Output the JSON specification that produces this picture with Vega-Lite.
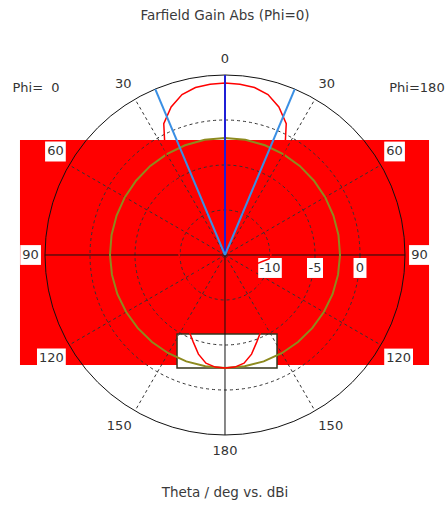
{
  "$schema": "https://vega.github.io/schema/vega-lite/v6.json",
  "width": 446,
  "height": 506,
  "autosize": {"type": "none"},
  "padding": 0,
  "background": "white",
  "config": {"view": {"stroke": null}},
  "datasets": {
    "region": [{"x1": -22.78, "x2": 22.67, "y1": 12.78, "y2": -12.22}],
    "frame": [{"x1": -5.33, "x2": 5.78, "y1": -8.78, "y2": -12.56}],
    "rings": [
      {"r": 5, "dash": true},
      {"r": 10, "dash": true},
      {"r": 15, "dash": true},
      {"r": 20, "dash": false}
    ],
    "spokes": [
      {"a": -150, "dash": true}, {"a": -120, "dash": true}, {"a": -60, "dash": true}, {"a": -30, "dash": true},
      {"a": 30, "dash": true}, {"a": 60, "dash": true}, {"a": 120, "dash": true}, {"a": 150, "dash": true},
      {"a": -90, "dash": false}, {"a": 90, "dash": false}, {"a": 180, "dash": false}
    ],
    "beams": [
      {"a": 0, "kind": "main"},
      {"a": -22.8, "kind": "3dB"},
      {"a": 22.8, "kind": "3dB"}
    ],
    "thetaLabels": [
      {"a": 0, "label": "0"},
      {"a": -30, "label": "30"}, {"a": 30, "label": "30"},
      {"a": -60, "label": "60"}, {"a": 60, "label": "60"},
      {"a": -90, "label": "90"}, {"a": 90, "label": "90"},
      {"a": -120, "label": "120"}, {"a": 120, "label": "120"},
      {"a": -150, "label": "150"}, {"a": 150, "label": "150"},
      {"a": 180, "label": "180"}
    ],
    "dbLabels": [
      {"r": 5, "label": "-10"},
      {"r": 10, "label": "-5"},
      {"r": 15, "label": "0"}
    ],
    "captions": [
      {"x": 0, "y": 26.56, "text": "Farfield Gain Abs (Phi=0)"},
      {"x": 0, "y": -26.44, "text": "Theta / deg vs. dBi"}
    ],
    "phiLabels": [
      {"x": -21.0, "y": 18.56, "text": "Phi=\u00a0 0"},
      {"x": 21.33, "y": 18.56, "text": "Phi=180"}
    ],
    "gain": [
      {"s": "red", "a": -180, "dB": -2.45}, {"s": "red", "a": -175, "dB": -2.5}, {"s": "red", "a": -170, "dB": -2.8},
      {"s": "red", "a": -165, "dB": -3.6}, {"s": "red", "a": -160, "dB": -4.7}, {"s": "red", "a": -155, "dB": -5.6},
      {"s": "red", "a": -150, "dB": -6.2}, {"s": "red", "a": -145, "dB": -7.0}, {"s": "red", "a": -140, "dB": -8.0},
      {"s": "red", "a": -135, "dB": -9.0}, {"s": "red", "a": -130, "dB": -10.0}, {"s": "red", "a": -125, "dB": -10.8},
      {"s": "red", "a": -120, "dB": -11.4}, {"s": "red", "a": -115, "dB": -11.7}, {"s": "red", "a": -110, "dB": -11.6},
      {"s": "red", "a": -105, "dB": -11.3}, {"s": "red", "a": -100, "dB": -10.8}, {"s": "red", "a": -95, "dB": -10.1},
      {"s": "red", "a": -90, "dB": -9.9}, {"s": "red", "a": -85, "dB": -9.85}, {"s": "red", "a": -80, "dB": -9.8},
      {"s": "red", "a": -75, "dB": -9.7}, {"s": "red", "a": -70, "dB": -9.6}, {"s": "red", "a": -65, "dB": -9.5},
      {"s": "red", "a": -60, "dB": -9.3}, {"s": "red", "a": -55, "dB": -9.0}, {"s": "red", "a": -50, "dB": -8.6},
      {"s": "red", "a": -45, "dB": -7.8}, {"s": "red", "a": -40, "dB": -6.5}, {"s": "red", "a": -35, "dB": -4.5},
      {"s": "red", "a": -30, "dB": -1.7}, {"s": "red", "a": -25, "dB": 1.1}, {"s": "red", "a": -20, "dB": 2.5},
      {"s": "red", "a": -15, "dB": 3.45}, {"s": "red", "a": -10, "dB": 3.9}, {"s": "red", "a": -5, "dB": 4.05},
      {"s": "red", "a": 0, "dB": 4.1},
      {"s": "red", "a": 5, "dB": 4.05}, {"s": "red", "a": 10, "dB": 3.9}, {"s": "red", "a": 15, "dB": 3.45},
      {"s": "red", "a": 20, "dB": 2.5}, {"s": "red", "a": 25, "dB": 1.1}, {"s": "red", "a": 30, "dB": -1.7},
      {"s": "red", "a": 35, "dB": -4.5}, {"s": "red", "a": 40, "dB": -6.5}, {"s": "red", "a": 45, "dB": -7.8},
      {"s": "red", "a": 50, "dB": -8.6}, {"s": "red", "a": 55, "dB": -9.0}, {"s": "red", "a": 60, "dB": -9.3},
      {"s": "red", "a": 65, "dB": -9.5}, {"s": "red", "a": 70, "dB": -9.6}, {"s": "red", "a": 75, "dB": -9.7},
      {"s": "red", "a": 80, "dB": -9.8}, {"s": "red", "a": 85, "dB": -9.85}, {"s": "red", "a": 90, "dB": -9.9},
      {"s": "red", "a": 95, "dB": -10.1}, {"s": "red", "a": 100, "dB": -10.8}, {"s": "red", "a": 105, "dB": -11.3},
      {"s": "red", "a": 110, "dB": -11.6}, {"s": "red", "a": 115, "dB": -11.7}, {"s": "red", "a": 120, "dB": -11.4},
      {"s": "red", "a": 125, "dB": -10.8}, {"s": "red", "a": 130, "dB": -10.0}, {"s": "red", "a": 135, "dB": -9.0},
      {"s": "red", "a": 140, "dB": -8.0}, {"s": "red", "a": 145, "dB": -7.0}, {"s": "red", "a": 150, "dB": -6.2},
      {"s": "red", "a": 155, "dB": -5.6}, {"s": "red", "a": 160, "dB": -4.7}, {"s": "red", "a": 165, "dB": -3.6},
      {"s": "red", "a": 170, "dB": -2.8}, {"s": "red", "a": 175, "dB": -2.5}, {"s": "red", "a": 180, "dB": -2.45},
      {"s": "olive", "a": -180, "dB": -2.45}, {"s": "olive", "a": -170, "dB": -2.44}, {"s": "olive", "a": -160, "dB": -2.42},
      {"s": "olive", "a": -150, "dB": -2.4}, {"s": "olive", "a": -140, "dB": -2.38}, {"s": "olive", "a": -130, "dB": -2.35},
      {"s": "olive", "a": -120, "dB": -2.32}, {"s": "olive", "a": -110, "dB": -2.28}, {"s": "olive", "a": -100, "dB": -2.25},
      {"s": "olive", "a": -90, "dB": -2.22}, {"s": "olive", "a": -80, "dB": -2.2}, {"s": "olive", "a": -70, "dB": -2.18},
      {"s": "olive", "a": -60, "dB": -2.15}, {"s": "olive", "a": -50, "dB": -2.12}, {"s": "olive", "a": -40, "dB": -2.08},
      {"s": "olive", "a": -30, "dB": -2.05}, {"s": "olive", "a": -20, "dB": -2.02}, {"s": "olive", "a": -10, "dB": -2.0},
      {"s": "olive", "a": 0, "dB": -2.0},
      {"s": "olive", "a": 10, "dB": -2.0}, {"s": "olive", "a": 20, "dB": -2.02}, {"s": "olive", "a": 30, "dB": -2.05},
      {"s": "olive", "a": 40, "dB": -2.08}, {"s": "olive", "a": 50, "dB": -2.12}, {"s": "olive", "a": 60, "dB": -2.15},
      {"s": "olive", "a": 70, "dB": -2.18}, {"s": "olive", "a": 80, "dB": -2.2}, {"s": "olive", "a": 90, "dB": -2.22},
      {"s": "olive", "a": 100, "dB": -2.25}, {"s": "olive", "a": 110, "dB": -2.28}, {"s": "olive", "a": 120, "dB": -2.32},
      {"s": "olive", "a": 130, "dB": -2.35}, {"s": "olive", "a": 140, "dB": -2.38}, {"s": "olive", "a": 150, "dB": -2.4},
      {"s": "olive", "a": 160, "dB": -2.42}, {"s": "olive", "a": 170, "dB": -2.44}, {"s": "olive", "a": 180, "dB": -2.45}
    ]
  },
  "layer": [
    {
      "data": {"name": "region"},
      "mark": {"type": "rect", "color": "#ff0000"},
      "encoding": {
        "x": {"field": "x1", "type": "quantitative", "scale": {"domain": [-25, 24.5556], "nice": false, "zero": false}, "axis": null},
        "x2": {"field": "x2"},
        "y": {"field": "y1", "type": "quantitative", "scale": {"domain": [-27.8889, 28.3333], "nice": false, "zero": false}, "axis": null},
        "y2": {"field": "y2"}
      }
    },
    {
      "data": {"name": "frame"},
      "mark": {"type": "rect", "fill": "white", "stroke": "#34341c", "strokeWidth": 1.5},
      "encoding": {
        "x": {"field": "x1", "type": "quantitative", "axis": null},
        "x2": {"field": "x2"},
        "y": {"field": "y1", "type": "quantitative", "axis": null},
        "y2": {"field": "y2"}
      }
    },
    {
      "data": {"name": "rings"},
      "transform": [
        {"filter": "datum.dash"},
        {"calculate": "0", "as": "ox"},
        {"calculate": "0", "as": "oy"}
      ],
      "mark": {"type": "point", "shape": "circle", "filled": false, "stroke": "#333333", "strokeWidth": 1, "strokeDash": [3, 3], "opacity": 1},
      "encoding": {
        "x": {"field": "ox", "type": "quantitative", "axis": null},
        "y": {"field": "oy", "type": "quantitative", "axis": null},
        "size": {"field": "r", "type": "quantitative", "scale": {"type": "pow", "exponent": 2, "domain": [0, 20], "range": [0, 129600], "zero": true}, "legend": null}
      }
    },
    {
      "data": {"name": "spokes"},
      "transform": [
        {"filter": "datum.dash"},
        {"calculate": "0", "as": "ox"},
        {"calculate": "0", "as": "oy"},
        {"calculate": "20 * sin(datum.a * PI / 180)", "as": "ex"},
        {"calculate": "20 * cos(datum.a * PI / 180)", "as": "ey"}
      ],
      "mark": {"type": "rule", "color": "#333333", "strokeWidth": 1, "strokeDash": [3, 3]},
      "encoding": {
        "x": {"field": "ox", "type": "quantitative", "axis": null},
        "y": {"field": "oy", "type": "quantitative", "axis": null},
        "x2": {"field": "ex"},
        "y2": {"field": "ey"}
      }
    },
    {
      "data": {"name": "rings"},
      "transform": [
        {"filter": "!datum.dash"},
        {"calculate": "0", "as": "ox"},
        {"calculate": "0", "as": "oy"}
      ],
      "mark": {"type": "point", "shape": "circle", "filled": false, "stroke": "#111111", "strokeWidth": 1, "opacity": 1},
      "encoding": {
        "x": {"field": "ox", "type": "quantitative", "axis": null},
        "y": {"field": "oy", "type": "quantitative", "axis": null},
        "size": {"field": "r", "type": "quantitative", "legend": null}
      }
    },
    {
      "data": {"name": "spokes"},
      "transform": [
        {"filter": "!datum.dash"},
        {"calculate": "0", "as": "ox"},
        {"calculate": "0", "as": "oy"},
        {"calculate": "20 * sin(datum.a * PI / 180)", "as": "ex"},
        {"calculate": "20 * cos(datum.a * PI / 180)", "as": "ey"}
      ],
      "mark": {"type": "rule", "color": "#111111", "strokeWidth": 1},
      "encoding": {
        "x": {"field": "ox", "type": "quantitative", "axis": null},
        "y": {"field": "oy", "type": "quantitative", "axis": null},
        "x2": {"field": "ex"},
        "y2": {"field": "ey"}
      }
    },
    {
      "data": {"name": "thetaLabels"},
      "transform": [
        {"calculate": "20.6 * sin(datum.a * PI / 180) + (abs(datum.a) == 0 || abs(datum.a) == 180 ? 0 : (datum.a < 0 ? -1 : 1) * (0.45 * length(datum.label) + 0.1))", "as": "cx"},
        {"calculate": "20.6 * cos(datum.a * PI / 180) + (abs(datum.a) < 90 ? 1.2 : (abs(datum.a) > 90 ? -1.2 : 0))", "as": "cy"},
        {"calculate": "datum.cx - (0.45 * length(datum.label) + 0.25)", "as": "bx1"},
        {"calculate": "datum.cx + (0.45 * length(datum.label) + 0.25)", "as": "bx2"},
        {"calculate": "datum.cy - 1.1", "as": "by1"},
        {"calculate": "datum.cy + 1.1", "as": "by2"}
      ],
      "mark": {"type": "rect", "fill": "white"},
      "encoding": {
        "x": {"field": "bx1", "type": "quantitative", "axis": null},
        "x2": {"field": "bx2"},
        "y": {"field": "by1", "type": "quantitative", "axis": null},
        "y2": {"field": "by2"}
      }
    },
    {
      "data": {"name": "dbLabels"},
      "transform": [
        {"calculate": "0.42 * length(datum.label) + 0.3 - (indexof(datum.label, '-') >= 0 ? 0.25 : 0)", "as": "hw"},
        {"calculate": "datum.r - datum.hw", "as": "bx1"},
        {"calculate": "datum.r + datum.hw", "as": "bx2"},
        {"calculate": "-0.33", "as": "by1"},
        {"calculate": "-2.55", "as": "by2"}
      ],
      "mark": {"type": "rect", "fill": "white"},
      "encoding": {
        "x": {"field": "bx1", "type": "quantitative", "axis": null},
        "x2": {"field": "bx2"},
        "y": {"field": "by1", "type": "quantitative", "axis": null},
        "y2": {"field": "by2"}
      }
    },
    {
      "data": {"name": "gain"},
      "transform": [
        {"filter": "datum.s == 'olive'"},
        {"calculate": "max(0, datum.dB + 15)", "as": "rr"},
        {"calculate": "datum.rr * sin(datum.a * PI / 180)", "as": "px"},
        {"calculate": "datum.rr * cos(datum.a * PI / 180)", "as": "py"}
      ],
      "mark": {"type": "line", "color": "#8d8a1e", "strokeWidth": 2},
      "encoding": {
        "x": {"field": "px", "type": "quantitative", "axis": null},
        "y": {"field": "py", "type": "quantitative", "axis": null},
        "order": {"field": "a", "type": "quantitative"}
      }
    },
    {
      "data": {"name": "gain"},
      "transform": [
        {"filter": "datum.s == 'red'"},
        {"calculate": "max(0, datum.dB + 15)", "as": "rr"},
        {"calculate": "datum.rr * sin(datum.a * PI / 180)", "as": "px"},
        {"calculate": "datum.rr * cos(datum.a * PI / 180)", "as": "py"}
      ],
      "mark": {"type": "line", "color": "#ff0000", "strokeWidth": 1.5},
      "encoding": {
        "x": {"field": "px", "type": "quantitative", "axis": null},
        "y": {"field": "py", "type": "quantitative", "axis": null},
        "order": {"field": "a", "type": "quantitative"}
      }
    },
    {
      "data": {"name": "beams"},
      "transform": [
        {"calculate": "0", "as": "ox"},
        {"calculate": "0", "as": "oy"},
        {"calculate": "20 * sin(datum.a * PI / 180)", "as": "ex"},
        {"calculate": "20 * cos(datum.a * PI / 180)", "as": "ey"}
      ],
      "mark": {"type": "rule", "strokeWidth": 2},
      "encoding": {
        "x": {"field": "ox", "type": "quantitative", "axis": null},
        "y": {"field": "oy", "type": "quantitative", "axis": null},
        "x2": {"field": "ex"},
        "y2": {"field": "ey"},
        "color": {"field": "kind", "type": "nominal", "scale": {"domain": ["main", "3dB"], "range": ["#1f1fd6", "#3a8fe4"]}, "legend": null}
      }
    },
    {
      "data": {"name": "thetaLabels"},
      "transform": [
        {"calculate": "20.6 * sin(datum.a * PI / 180) + (abs(datum.a) == 0 || abs(datum.a) == 180 ? 0 : (datum.a < 0 ? -1 : 1) * (0.45 * length(datum.label) + 0.1))", "as": "cx"},
        {"calculate": "20.6 * cos(datum.a * PI / 180) + (abs(datum.a) < 90 ? 1.2 : (abs(datum.a) > 90 ? -1.2 : 0))", "as": "cy"}
      ],
      "mark": {"type": "text", "font": "DejaVu Sans", "fontSize": 13, "color": "#333333", "align": "center", "baseline": "middle"},
      "encoding": {
        "x": {"field": "cx", "type": "quantitative", "axis": null},
        "y": {"field": "cy", "type": "quantitative", "axis": null},
        "text": {"field": "label"}
      }
    },
    {
      "data": {"name": "dbLabels"},
      "transform": [{"calculate": "-1.44", "as": "ly"}],
      "mark": {"type": "text", "font": "DejaVu Sans", "fontSize": 13, "color": "#333333", "align": "center", "baseline": "middle"},
      "encoding": {
        "x": {"field": "r", "type": "quantitative", "axis": null},
        "y": {"field": "ly", "type": "quantitative", "axis": null},
        "text": {"field": "label"}
      }
    },
    {
      "data": {"name": "phiLabels"},
      "mark": {"type": "text", "font": "DejaVu Sans", "fontSize": 13, "color": "#333333", "align": "center", "baseline": "middle"},
      "encoding": {
        "x": {"field": "x", "type": "quantitative", "axis": null},
        "y": {"field": "y", "type": "quantitative", "axis": null},
        "text": {"field": "text"}
      }
    },
    {
      "data": {"name": "captions"},
      "mark": {"type": "text", "font": "DejaVu Sans", "fontSize": 13.5, "color": "#3a3a3a", "align": "center", "baseline": "middle"},
      "encoding": {
        "x": {"field": "x", "type": "quantitative", "axis": null},
        "y": {"field": "y", "type": "quantitative", "axis": null},
        "text": {"field": "text"}
      }
    }
  ]
}
